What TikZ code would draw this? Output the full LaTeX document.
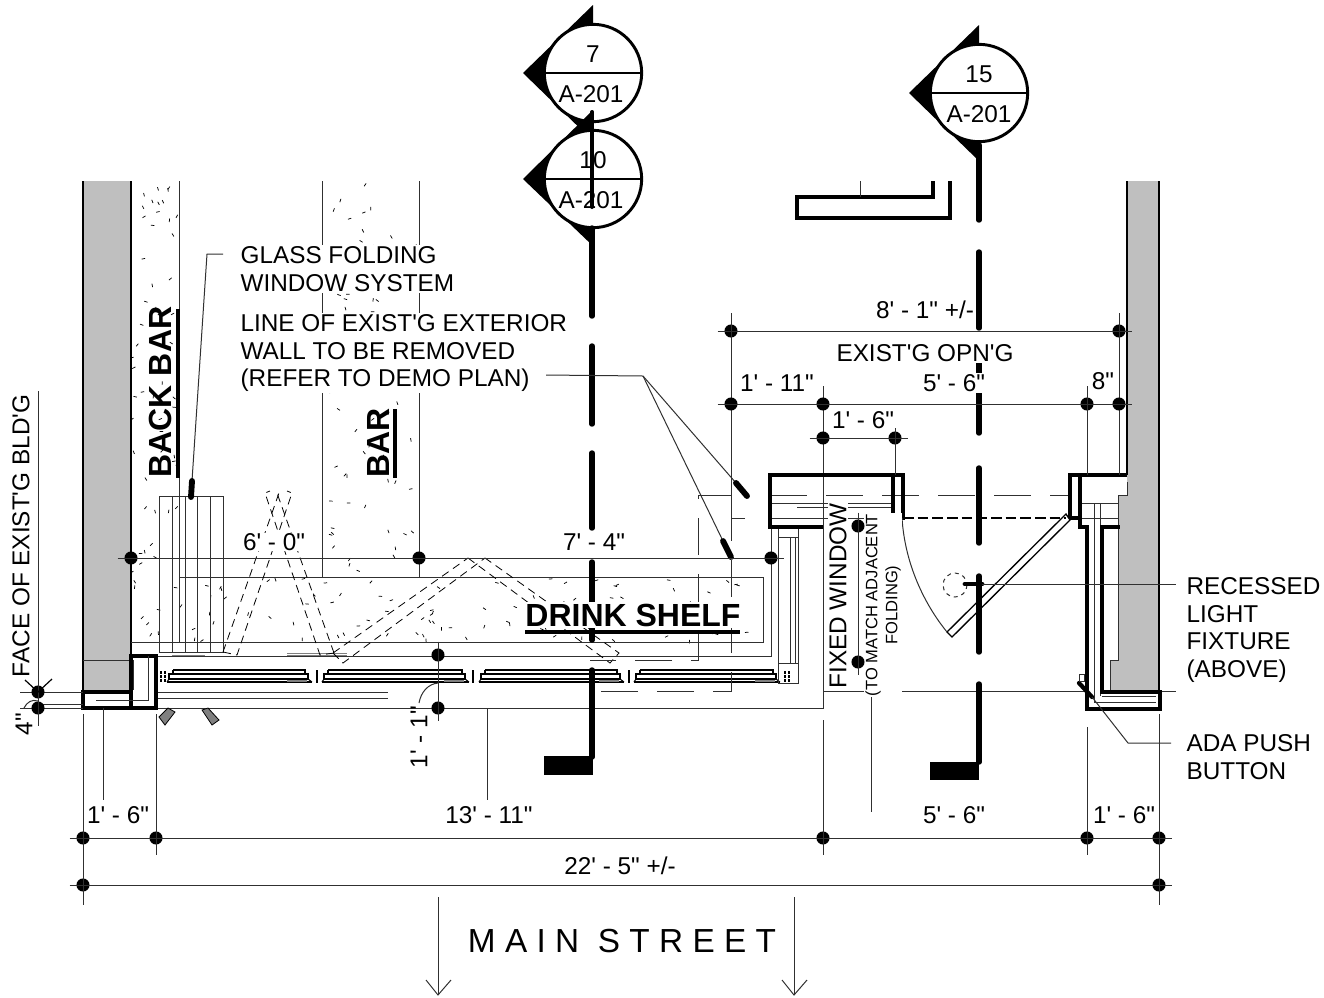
\documentclass[tikz,border=0pt]{standalone}
\usepackage{fontspec}
\usepackage{tikz}
\newfontfamily\dwgfont{Liberation Sans}
\newfontfamily\streetfont[LetterSpace=28]{Liberation Sans}
\definecolor{wallgray}{HTML}{BFBFBF}
\definecolor{thinblk}{HTML}{303030}
\newcommand{\hatchzone}[5]{%
    \foreach \n in {1,...,#5}{%
        \pgfmathsetmacro{\hx}{#1+rnd*(#3-#1)}%
        \pgfmathsetmacro{\hy}{#2+rnd*(#4-#2)}%
        \pgfmathsetmacro{\ha}{rnd*180}%
        \draw[hatchtick] (\hx,\hy) -- ++(\ha:3.5);%
    }%
}

\begin{document}
\begin{tikzpicture}[x=0.75pt, y=-0.75pt,
    every node/.style={font=\dwgfont\fontsize{18.25}{20.6}\selectfont},
    hatchtick/.style={black, line width=0.55pt},
    planln/.style={thinblk, line width=0.75pt},
    dimln/.style={thinblk, line width=0.75pt},
    dimrun/.style={dimln, shorten <=-10pt, shorten >=-10pt},
    dashln/.style={black, line width=0.6pt, dash pattern=on 6pt off 4pt},
    longdash/.style={thinblk, line width=0.7pt, dash pattern=on 28pt off 14pt},
    wallln/.style={black, line width=3.4pt, line join=miter},
    secln/.style={black, line width=4.1pt, line cap=round},
    pointer/.style={black, line width=4.4pt, line cap=round},
    dimdot/.style={circle, fill=black, inner sep=0pt, minimum size=9.8pt},
    bubble/.style={circle, draw=black, fill=white, line width=2.2pt, inner sep=0pt, minimum size=73pt},
    whitelbl/.style={fill=white, inner sep=1pt},
    notelbl/.style={fill=white, inner sep=1pt, align=left, anchor=north west},
    boldlbl/.style={font=\dwgfont\bfseries\fontsize{24}{28}\selectfont, inner sep=0pt}]
    \useasboundingbox (0,0) rectangle (1324,997);

    % floor finish
    \pgfmathsetseed{23}
    \hatchzone{133}{183}{178}{640}{60}
    \hatchzone{324}{183}{418}{576}{72}
    \hatchzone{180}{578}{762}{641}{95}

    % walls
    \fill[wallgray] (83,181) rectangle (131,692);
    \fill[wallgray] (1127,181) -- (1159,181) -- (1159,692) -- (1110,692) -- (1110,660) -- (1118,660) -- (1118,495) -- (1127,495) -- cycle;
    \draw[black, line width=1.6pt] (83,181) -- (83,692);
    \draw[black, line width=1.6pt] (131,181) -- (131,656);
    \draw[black, line width=1.2pt] (1127,181) -- (1127,475);
    \draw[black, line width=1.2pt] (1159,181) -- (1159,692);
    \draw[planln] (1127,482) -- (1127,495) -- (1118,495) -- (1118,660) -- (1110,660) -- (1110,692);
    \draw[planln] (83,660) -- (131,660);

    % bar lines
    \draw[planln] (179,181) -- (179,642);
    \draw[planln] (322,181) -- (322,577);
    \draw[planln] (419,181) -- (419,577);
    \draw[planln] (179,577) rectangle (763,642);
    \draw[planln] (131,642) -- (179,642);
    \draw[planln] (133,656) -- (771,656) -- (771,527);

    % folding stack
    \draw[planln] (159,496) rectangle (223,652);
    \draw[planln] (172,496) -- (172,652);
    \draw[planln] (185,496) -- (185,652);
    \draw[planln] (197,496) -- (197,652);
    \draw[planln] (210,496) -- (210,652);
    \draw[gray, line width=0.6pt] (172,655) -- (205,655);
    \draw[gray, line width=0.6pt] (287,653) -- (347,653);
    \draw[gray, line width=0.6pt] (287,655) -- (347,655);

    % folding leaves
    \draw[dashln] (223,652) -- (279,493);
    \draw[dashln] (223,652) -- (237,655) -- (292,493) -- (287,491);
    \draw[dashln] (334,653) -- (277,493);
    \draw[dashln] (334,653) -- (320,655) -- (265,493) -- (270,491);
    \draw[dashln] (333,653) -- (468,558);
    \draw[dashln] (333,653) -- (343,663) -- (485,558);
    \draw[dashln] (468,558) -- (610,663) -- (619,653) -- (485,558);

    % window panels
    \foreach \xa/\xb in {173/305, 328/462, 485/617, 640/773}{
        \draw[black, line width=0.9pt] (\xa,670) -- (\xb,670) -- (\xb,674);
        \draw[black, line width=0.9pt] (\xa,670) -- (\xa,674);
        \draw[black, line width=0.8pt, fill=white] (\xa-4,674) rectangle (\xb+3,679);
        \draw[black, line width=1.3pt] (\xa-6,682) -- (\xb+7,682);
        \draw[black, line width=0.8pt] (\xa-4,679) -- (\xa-6,682);
        \draw[black, line width=0.8pt] (\xb+3,679) -- (\xb+7,682);
        \fill[gray] (\xb-18,679.5) rectangle (\xb+2,681.5);
    }
    \foreach \xa in {317, 473, 629}{
        \draw[black, line width=2pt] (\xa,670) -- (\xa,683);
    }
    \draw[black, line width=1.5pt, dash pattern=on 2pt off 1pt] (161,671) -- (161,682);
    \draw[black, line width=1.5pt, dash pattern=on 2pt off 1pt] (165,671) -- (165,682);

    % fixed side window
    \draw[planln] (778,527) -- (778,683) -- (798,683) -- (798,527);
    \draw[planln] (778,527) rectangle (798,537);
    \draw[planln] (778,663) -- (798,663);
    \draw[planln] (790,537) -- (790,663);
    \draw[planln] (795,537) -- (795,663);
    \draw[black, line width=1.5pt, dash pattern=on 2pt off 1pt] (785,671) -- (785,682);
    \draw[black, line width=1.5pt, dash pattern=on 2pt off 1pt] (789,671) -- (789,682);

    % line of exterior wall
    \draw[longdash] (731,495) -- (698,495) -- (698,660) -- (590,660);
    \draw[longdash] (745,518) -- (731,518) -- (731,691) -- (590,691);
    \draw[longdash] (731,483) -- (731,518);
    \draw[longdash] (770,495) -- (1070,495);
    \draw[planln] (770,503) -- (893,503);
    \draw[planln] (797,507) -- (893,507);
    \draw[planln] (770,518) -- (893,518);
    \draw[planln] (1080,503) -- (1118,503);
    \draw[planln] (1080,518) -- (1118,518);
    \draw[planln] (1094,503) -- (1094,702);
    \draw[planln] (1100,503) -- (1100,696);

    % pavement lines
    \draw[planln] (157,692) -- (388,692);
    \draw[planln] (157,698) -- (388,698);
    \draw[planln] (157,708) -- (823,708) -- (823,386);
    \draw[planln] (823,691.5) -- (1087,691.5);
    \draw[planln] (1160,691.5) -- (1176,691.5);

    % jambs
    \draw[wallln] (884,527) -- (893,527);
    \draw[wallln] (823,527) -- (770,527) -- (770,475) -- (903,475) -- (903,518) -- (893,518) -- (893,475);
    \draw[wallln] (1127,475) -- (1070,475) -- (1070,518) -- (1080,518) -- (1080,475);
    \draw[wallln] (1080,518) -- (1080,527) -- (1087,527) -- (1087,709) -- (1160,709) -- (1160,692) -- (1102,692) -- (1102,527) -- (1120,527);
    \draw[planln] (1094,702) -- (1156,702);
    \draw[planln] (1102,696) -- (1156,696);
    \draw[wallln] (83,692) rectangle (131,708);
    \draw[wallln] (131,656) rectangle (156,708);
    \draw[planln] (148,656) -- (148,700) -- (96,700);
    \draw[planln] (133,660) -- (133,690);
    \draw[planln] (83,692) -- (20,692);
    \draw[planln] (83,704) -- (38,704);
    \draw[planln] (83,708) -- (20,708);
    \draw[black, line width=0.6pt, fill=gray] (159,717) -- (168,708) -- (175,712) -- (165,725) -- cycle;
    \draw[black, line width=0.6pt, fill=gray] (202,710) -- (208,708) -- (219,720) -- (212,725) -- cycle;

    % door
    \draw[black, line width=1pt, fill=white] (1066,514) -- (1070,520) -- (952,637) -- (947,632) -- cycle;
    \draw[planln] (902,518) .. controls (905,565) and (925,605) .. (947,632);
    \draw[black, line width=0.9pt, dash pattern=on 8pt off 3pt] (903,518) -- (1066,518);
    \draw[planln, dashed] (955,585) circle (12);

    % upper counter
    \draw[wallln] (933,181) -- (933,197) -- (797,197) -- (797,218) -- (950,218) -- (950,181);
    \draw[planln] (860,181) -- (860,197);

    % cut lines
    \fill[black] (523,73) -- (593,5) -- (593,141) -- cycle;
    \node[bubble] (sec7) at (593,73) {};
    \draw[black, line width=2.2pt] (sec7.west) -- (sec7.east);
    \fill[black] (523,179) -- (593,110) -- (593,246) -- cycle;
    \node[bubble] (sec10) at (593,179) {};
    \draw[black, line width=2.2pt] (sec10.west) -- (sec10.east);
    \fill[black] (909,93) -- (979,25) -- (979,161) -- cycle;
    \node[bubble] (sec15) at (979,93) {};
    \draw[black, line width=2.2pt] (sec15.west) -- (sec15.east);
    \node (sec7n) at (593,54) {7};
    \node (sec7s) at (591,94) {A-201};
    \node (sec10n) at (593,160) {10};
    \node (sec10s) at (591,200) {A-201};
    \node (sec15n) at (979,74) {15};
    \node (sec15s) at (979,114) {A-201};
    \draw[secln, line width=3pt] (592,207) -- (592,112);
    \draw[secln] (592,228) -- (592,316);
    \draw[secln] (592,346) -- (592,424);
    \draw[secln] (592,453) -- (592,528);
    \draw[secln] (592,562) -- (592,640);
    \draw[secln] (592,670) -- (592,757);
    \fill[black] (544,756) rectangle (593,775);
    \draw[secln] (979,145) -- (979,220);
    \draw[secln] (979,252) -- (979,328);
    \draw[secln] (979,360) -- (979,433);
    \draw[secln] (979,468) -- (979,543);
    \draw[secln] (979,576) -- (979,652);
    \draw[secln] (979,684) -- (979,762);
    \fill[black] (930,762) rectangle (979,780);

    % room labels
    \node[boldlbl, rotate=90] (backbar) at (160,392) {BACK BAR};
    \draw[black, line width=2.6pt] (178,309) -- (178,478);
    \node[boldlbl, rotate=90] (barlbl) at (378,443) {BAR};
    \draw[black, line width=2.6pt] (395,409) -- (395,478);
    \node[boldlbl, fill=white, inner ysep=1pt, inner xsep=2pt] (shelf) at (633,615) {DRINK SHELF};
    \draw[black, line width=2.6pt] (525,632) -- (740,632);

    % notes
    \node[notelbl] (glass) at (239,245) {GLASS FOLDING\\WINDOW SYSTEM};
    \node[notelbl] (exterior) at (239,313) {LINE OF EXIST'G EXTERIOR\\WALL TO BE REMOVED\\(REFER TO DEMO PLAN)};
    \node[notelbl, fill=none] (fixture) at (1185,576) {RECESSED\\LIGHT\\FIXTURE\\(ABOVE)};
    \node[notelbl, fill=none] (adabtn) at (1185,733) {ADA PUSH\\BUTTON};
    \node[whitelbl, rotate=90] (fixedwin) at (838,596) {FIXED WINDOW};
    \node[whitelbl, rotate=90, align=center, font=\dwgfont\fontsize{12.4}{15}\selectfont] (tomatch) at (883,605) {(TO MATCH ADJACENT\\FOLDING)};
    \node[whitelbl, rotate=90] (facebldg) at (21,536) {FACE OF EXIST'G BLD'G};

    % leaders
    \coordinate (glassend) at (223,254);
    \coordinate (glassbend) at (207,254);
    \coordinate (glasstip) at (192,481);
    \coordinate (extend) at (546,375);
    \coordinate (extbend) at (643,376);
    \coordinate (exttipa) at (736,483);
    \coordinate (exttipb) at (723,541);
    \draw[planln] (glassend) -- (glassbend) -- (glasstip);
    \draw[pointer] (glasstip) -- (191,497);
    \draw[planln] (extend) -- (extbend) -- (exttipa);
    \draw[planln] (extbend) -- (exttipb);
    \draw[pointer] (exttipa) -- (747,496);
    \draw[pointer] (exttipb) -- (731,557);
    \coordinate (lighttip) at (965,584);
    \draw[pointer, line width=3.6pt] (lighttip) -- (982,584);
    \draw[planln] (982,584) -- (1176,584);
    \coordinate (adatip) at (1079,683);
    \coordinate (adabend) at (1128,743);
    \draw[pointer, line width=3.2pt] (adatip) -- (1092,697);
    \draw[planln] (1092,697) -- (adabend) -- (1171,743);
    \draw[planln, fill=white] (1079,674) rectangle (1084,681);

    % dimensions
    \node[dimdot] (open1) at (731,331) {};
    \node[dimdot] (open2) at (1119,331) {};
    \draw[dimrun] (open1.center) -- (open2.center);
    \draw[dimln] (731,313) -- (731,483);
    \draw[dimln] (1119,313) -- (1119,475);
    \node[whitelbl] (openlbl) at (925,310) {8' - 1" +/-};
    \node[whitelbl] (openname) at (925,353) {EXIST'G OPN'G};

    \node[dimdot] (bay1) at (731,404) {};
    \node[dimdot] (bay2) at (823,404) {};
    \node[dimdot] (bay3) at (1087,404) {};
    \node[dimdot] (bay4) at (1119,404) {};
    \draw[dimrun] (bay1.center) -- (bay4.center);
    \draw[dimln] (1087,386) -- (1087,475);
    \node[whitelbl] (bay1lbl) at (777,383) {1' - 11"};
    \node[whitelbl] (bay2lbl) at (954,383) {5' - 6"};
    \node[whitelbl] (bay3lbl) at (1103,381) {8"};

    \node[dimdot] (sill1) at (823,438) {};
    \node[dimdot] (sill2) at (895,438) {};
    \draw[dimrun] (sill1.center) -- (sill2.center);
    \draw[dimln] (895,428) -- (895,475);
    \node[whitelbl] (silllbl) at (863,420) {1' - 6"};

    \node[dimdot] (bar1) at (131,558) {};
    \node[dimdot] (bar2) at (419,558) {};
    \node[dimdot] (bar3) at (771,558) {};
    \draw[dimrun] (bar1.center) -- (bar3.center);
    \node[fill=white, inner sep=0.5pt] (bar1lbl) at (274,542) {6' - 0"};
    \node[fill=white, inner sep=0.5pt] (bar2lbl) at (594,542) {7' - 4"};

    \node[dimdot] (hgt1) at (858,526) {};
    \node[dimdot] (hgt2) at (858,662) {};
    \draw[dimrun] (hgt1.center) -- (hgt2.center);

    \node[dimdot] (clear1) at (438,655) {};
    \node[dimdot] (clear2) at (438,708) {};
    \draw[dimrun] (clear1.center) -- (clear2.center);
    \draw[planln] (438,683) .. controls (428,684) and (421,692) .. (419,703);
    \node[rotate=90] (clearlbl) at (419,737) {1' - 1"};

    \node[dimdot] (face1) at (38,692) {};
    \node[dimdot] (face2) at (38,708) {};
    \coordinate (facetop) at (38,391);
    \coordinate (facelow) at (38,726);
    \draw[dimln] (facetop) -- (facelow);
    \draw[black, line width=0.9pt] (25,680) -- (38,692) -- (52,679);
    \draw[planln] (38,701) .. controls (32,699) and (27,702) .. (24,708);
    \node[rotate=90, inner sep=0pt] (facelbl) at (24,724) {4"};

    \node[dimdot] (run1) at (83,838) {};
    \node[dimdot] (run2) at (156,838) {};
    \node[dimdot] (run3) at (823,838) {};
    \node[dimdot] (run4) at (1087,838) {};
    \node[dimdot] (run5) at (1159,838) {};
    \draw[dimrun] (run1.center) -- (run5.center);
    \node[dimdot] (total1) at (83,885) {};
    \node[dimdot] (total2) at (1159,885) {};
    \draw[dimrun] (total1.center) -- (total2.center);
    \draw[dimln] (83,714) -- (83,905);
    \draw[dimln] (156,714) -- (156,855);
    \draw[dimln] (823,720) -- (823,855);
    \draw[dimln] (1087,727) -- (1087,855);
    \draw[dimln] (1159,714) -- (1159,905);
    \draw[dimln] (103,708) -- (103,800);
    \draw[dimln] (487,708) -- (487,800);
    \draw[dimln] (871,697) -- (871,812);
    \node (run1lbl) at (118,815) {1' - 6"};
    \node (run2lbl) at (489,815) {13' - 11"};
    \node (run3lbl) at (954,815) {5' - 6"};
    \node (run4lbl) at (1124,815) {1' - 6"};
    \node (totallbl) at (620,866) {22' - 5" +/-};

    % street
    \node[font=\streetfont\fontsize{25}{27}\selectfont, inner sep=0pt] (street) at (622,941) {MAIN STREET};
    \draw[planln] (438,897) -- (438,995);
    \draw[planln] (426,980) -- (438,995) -- (451,980);
    \draw[planln] (794,897) -- (794,995);
    \draw[planln] (782,980) -- (794,995) -- (807,980);
\end{tikzpicture}
\end{document}
